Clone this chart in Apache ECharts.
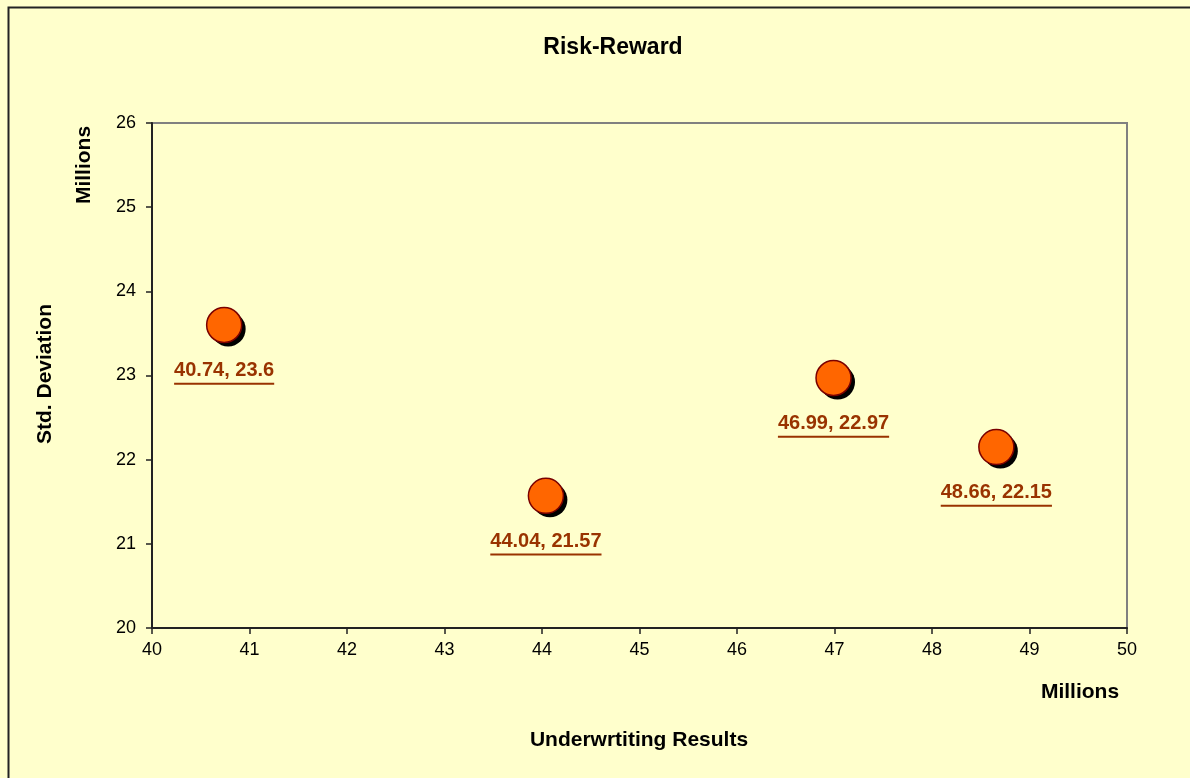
<!DOCTYPE html>
<html>
<head>
<meta charset="utf-8">
<script src="https://cdn.jsdelivr.net/npm/echarts@6/dist/echarts.min.js"></script>
<style>
html,body{margin:0;padding:0;background:#FFFFCC;}
#chart{width:1190px;height:778px;}
</style>
</head>
<body>
<div id="chart"></div>
<script>
const titleText = 'Risk-Reward';
const xAxisTitle = 'Underwrtiting Results';
const yAxisTitle = 'Std. Deviation';
const unitsLabel = 'Millions';
const xValues = [40.74, 44.04, 46.99, 48.66];
const yValues = [23.6, 21.57, 22.97, 22.15];
const xMin = 40, xMax = 50, xStep = 1;
const yMin = 20, yMax = 26, yStep = 1;

const points = xValues.map((x, i) => [x, yValues[i]]);
const font = '"Liberation Sans", Arial, sans-serif';

const chart = echarts.init(document.getElementById('chart'));
chart.setOption({
  backgroundColor: '#FFFFCC',
  animation: false,
  title: {
    text: titleText,
    left: 608, top: 31, textAlign: 'center',
    textStyle: {fontFamily: font, fontSize: 23, fontWeight: 'bold', color: '#000'}
  },
  grid: {
    left: 152, top: 123, width: 975, height: 505,
    show: true, borderColor: '#808080', borderWidth: 2, backgroundColor: '#FFFFCC'
  },
  xAxis: {
    type: 'value', min: xMin, max: xMax, interval: xStep,
    axisLine: {show: true, lineStyle: {color: '#222', width: 2}},
    axisTick: {show: true, length: 6, lineStyle: {color: '#222', width: 1.5}},
    splitLine: {show: false},
    axisLabel: {fontFamily: font, fontSize: 18, color: '#000', margin: 13}
  },
  yAxis: {
    type: 'value', min: yMin, max: yMax, interval: yStep,
    axisLine: {show: true, lineStyle: {color: '#222', width: 2}},
    axisTick: {show: true, length: 6, lineStyle: {color: '#222', width: 1.5}},
    splitLine: {show: false},
    axisLabel: {fontFamily: font, fontSize: 18, color: '#000', margin: 16}
  },
  graphic: [
    {type: 'rect', silent: true, z: -10,
     shape: {x: 8.5, y: 7.5, width: 1400, height: 1000},
     style: {fill: 'none', stroke: '#222', lineWidth: 2}},
    {type: 'text', x: 1080, y: 692,
     style: {text: unitsLabel, fontFamily: font, fontSize: 21, fontWeight: 'bold', fill: '#000', align: 'center', verticalAlign: 'middle'}},
    {type: 'text', x: 639, y: 740,
     style: {text: xAxisTitle, fontFamily: font, fontSize: 21, fontWeight: 'bold', fill: '#000', align: 'center', verticalAlign: 'middle'}},
    {type: 'text', x: 84, y: 165, rotation: Math.PI / 2,
     style: {text: unitsLabel, fontFamily: font, fontSize: 21, fontWeight: 'bold', fill: '#000', align: 'center', verticalAlign: 'middle'}},
    {type: 'text', x: 45, y: 374, rotation: Math.PI / 2,
     style: {text: yAxisTitle, fontFamily: font, fontSize: 21, fontWeight: 'bold', fill: '#000', align: 'center', verticalAlign: 'middle'}}
  ],
  series: [{
    type: 'scatter',
    name: 'shadow',
    data: points,
    symbol: 'circle',
    symbolSize: 35,
    symbolOffset: [4, 4],
    z: 1,
    silent: true,
    itemStyle: {color: '#000', opacity: 1},
    emphasis: {disabled: true},
    label: {show: false}
  }, {
    type: 'scatter',
    name: 'Risk-Reward',
    data: points,
    symbol: 'circle',
    symbolSize: 35,
    z: 2,
    itemStyle: {
      color: '#FF6600', borderColor: '#7A0000', borderWidth: 1.5, opacity: 1
    },
    emphasis: {disabled: true},
    label: {
      show: true, position: 'bottom', distance: 15,
      formatter: p => '{t|' + p.value[0] + ', ' + p.value[1] + '}\n{u|}',
      rich: {
        t: {fontFamily: font, fontSize: 20, fontWeight: 'bold', color: '#993300', lineHeight: 24, align: 'center'},
        u: {width: '100%', height: 2, lineHeight: 3, backgroundColor: '#993300', align: 'left'}
      }
    }
  }]
});
</script>
</body>
</html>
